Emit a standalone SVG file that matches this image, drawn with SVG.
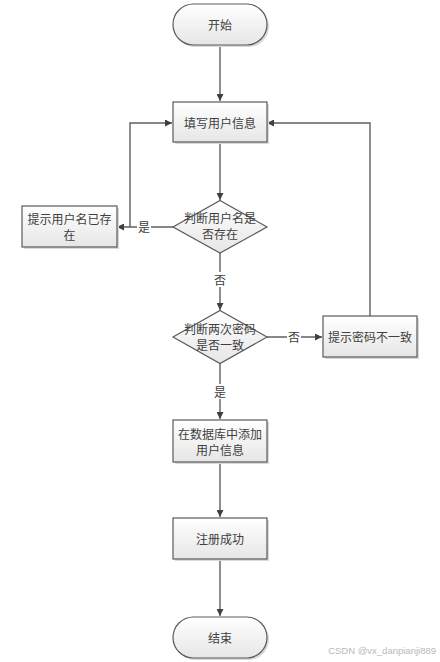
<svg xmlns="http://www.w3.org/2000/svg" width="440" height="662" viewBox="0 0 440 662">
<style>
.box{fill:url(#g);stroke:#5a5a5a;stroke-width:1.2}
.sh{fill:#d9d9d9}
.t{font-family:"Noto Sans CJK SC","Liberation Sans",sans-serif;font-size:12px;fill:#404040;text-anchor:middle;dominant-baseline:central}
.c{fill:none;stroke:#5f5f5f;stroke-width:1.4}
.lb{fill:#fff}
</style>
<defs>
<linearGradient id="g" x1="0" y1="0" x2="0" y2="1">
<stop offset="0" stop-color="#ffffff"/>
<stop offset="1" stop-color="#e6e6e6"/>
</linearGradient>
<marker id="a" viewBox="0 0 10 10" refX="10" refY="5" markerWidth="7" markerHeight="7" markerUnits="userSpaceOnUse" orient="auto">
<path d="M0,0 L10,5 L0,10 z" fill="#404040"/>
</marker>
</defs>
<rect width="440" height="662" fill="#fff"/>
<g id="connectors">
<path class="c" d="M220,45 V101" marker-end="url(#a)"/>
<path class="c" d="M220,143 V200" marker-end="url(#a)"/>
<path class="c" d="M173,227 H117" marker-end="url(#a)"/>
<path class="c" d="M130,227 V123 H172" marker-end="url(#a)"/>
<path class="c" d="M220,253 V310" marker-end="url(#a)"/>
<path class="c" d="M267,337 H322" marker-end="url(#a)"/>
<path class="c" d="M370,316 V123 H267" marker-end="url(#a)"/>
<path class="c" d="M220,363 V419" marker-end="url(#a)"/>
<path class="c" d="M220,462 V517" marker-end="url(#a)"/>
<path class="c" d="M220,560 V616" marker-end="url(#a)"/>
<rect class="lb" x="137" y="219" width="14" height="15"/>
<text class="t" x="144" y="226.5">是</text>
<rect class="lb" x="213" y="272" width="14" height="15"/>
<text class="t" x="220" y="279.5">否</text>
<rect class="lb" x="287" y="329" width="14" height="15"/>
<text class="t" x="294" y="336.5">否</text>
<rect class="lb" x="213" y="384" width="14" height="15"/>
<text class="t" x="220" y="391.5">是</text>
</g>
<g id="start">
<rect class="sh" x="175" y="6" width="94" height="41" rx="20.5"/>
<rect class="box" x="173" y="4" width="94" height="41" rx="20.5"/>
<text class="t" x="220" y="24.5">开始</text>
</g>
<g id="fill-info">
<rect class="sh" x="175" y="104" width="94" height="40"/>
<rect class="box" x="173" y="102" width="94" height="40"/>
<text class="t" x="220" y="122">填写用户信息</text>
</g>
<g id="check-user">
<path class="box" d="M220,200.5 L267,227 L220,253 L173,227 Z"/>
<text class="t" x="220" y="217.5">判断用户名是</text>
<text class="t" x="220" y="233.5">否存在</text>
</g>
<g id="user-exists">
<rect class="sh" x="24" y="208" width="95" height="41"/>
<rect class="box" x="22" y="206" width="95" height="41"/>
<text class="t" x="69.5" y="218">提示用户名已存</text>
<text class="t" x="69.5" y="234">在</text>
</g>
<g id="check-pwd">
<path class="box" d="M220,310.5 L267,337 L220,363.5 L173,337 Z"/>
<text class="t" x="220" y="328.5">判断两次密码</text>
<text class="t" x="220" y="344.5">是否一致</text>
</g>
<g id="pwd-mismatch">
<rect class="sh" x="325" y="318" width="94" height="41"/>
<rect class="box" x="323" y="316" width="94" height="41"/>
<text class="t" x="370" y="336.5">提示密码不一致</text>
</g>
<g id="add-db">
<rect class="sh" x="175" y="422" width="94" height="42"/>
<rect class="box" x="173" y="420" width="94" height="42"/>
<text class="t" x="220" y="433">在数据库中添加</text>
<text class="t" x="220" y="449">用户信息</text>
</g>
<g id="success">
<rect class="sh" x="175" y="520" width="94" height="41"/>
<rect class="box" x="173" y="518" width="94" height="41"/>
<text class="t" x="220" y="538.5">注册成功</text>
</g>
<g id="end">
<rect class="sh" x="175" y="619" width="94" height="41" rx="20.5"/>
<rect class="box" x="173" y="617" width="94" height="41" rx="20.5"/>
<text class="t" x="220" y="637.5">结束</text>
</g>
<text x="436" y="654" font-family="Liberation Sans,sans-serif" font-size="9.5" fill="#b8b8b8" text-anchor="end">CSDN @vx_danpianji889</text>
</svg>
